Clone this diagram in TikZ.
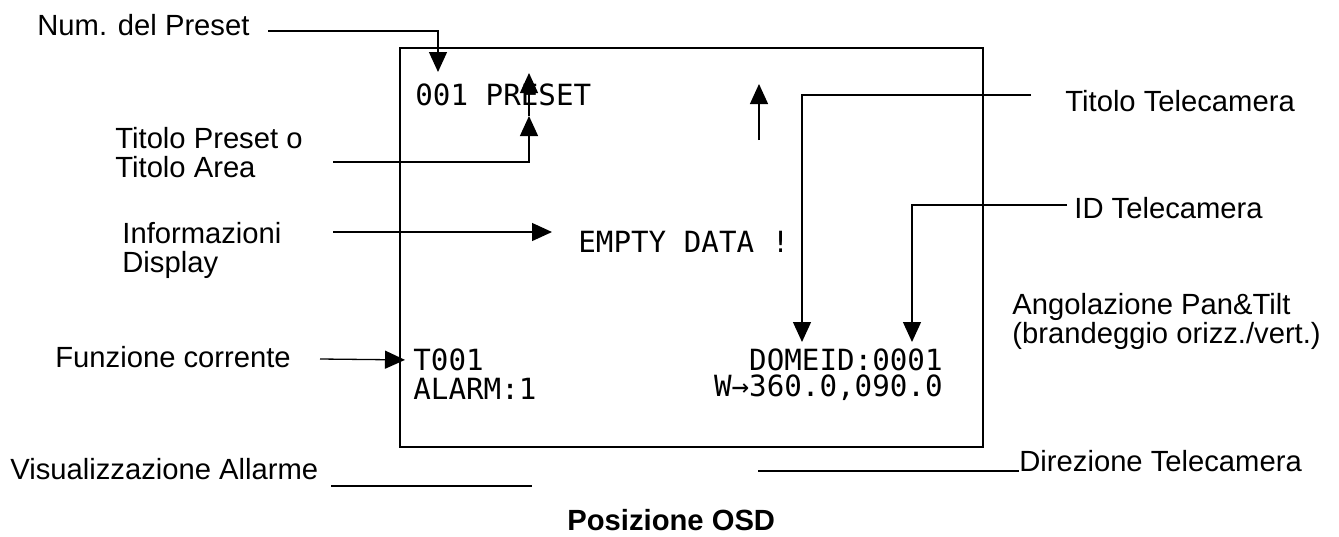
\documentclass[tikz,border=0pt]{standalone}
\usepackage{fontspec}
\setmainfont{Liberation Sans}
\newfontfamily\osdfont{DejaVu Sans Mono}
\usetikzlibrary{arrows.meta}

\begin{document}
\begin{tikzpicture}[x=0.5pt,y=-0.5pt,
  lbl/.style={inner sep=0pt, anchor=west, align=left, font=\fontsize{14.6}{14.5}\selectfont},
  osd/.style={inner sep=0pt, font=\osdfont\fontsize{14.6}{14.5}\selectfont},
  conn/.style={line width=0.65pt},
  arr/.style={conn, -{Triangle[length=10pt,width=9pt]}},
  frame/.style={line width=1.2pt}]
\useasboundingbox (0,0) rectangle (1339,536);
% Screen
\draw[frame] (400,48) rectangle (983,447);
\node[osd, anchor=west] (preset) at (415,95) {001 PRESET};
\node[osd, anchor=west] (empty) at (578,242) {EMPTY DATA !};
\node[osd, anchor=west] (tour) at (413,360) {T001};
\node[osd, anchor=west] (alarm) at (413,389) {ALARM:1};
\node[osd, anchor=east] (domeid) at (943,360) {DOMEID:0001};
\node[osd, anchor=east] (pantilt) at (943,388) {W→360.0,090.0};
% Num. del Preset
\node[lbl] (numlbl) at (37,25) {Num. del Preset};
\coordinate (numA) at (268,31);
\coordinate (numB) at (438,72);
\draw[arr] (numA) -| (numB);
% Titolo Preset
\node[lbl] (titlbl) at (115,152.5) {Titolo Preset o\\Titolo Area};
\coordinate (titA) at (333,162);
\coordinate (titM) at (529,116);
\coordinate (titB) at (529,73);
\draw[arr] (titA) -| (titM);
\draw[arr] (titM) -- (titB);
% free arrow
\coordinate (upA) at (759,140);
\coordinate (upB) at (759,84);
\draw[arr] (upA) -- (upB);
% Titolo Telecamera
\node[lbl] (camlbl) at (1065,101) {Titolo Telecamera};
\coordinate (camA) at (1031,95);
\coordinate (camB) at (802,342);
\draw[arr] (camA) -| (camB);
% ID Telecamera
\node[lbl] (idlbl) at (1074,208) {ID Telecamera};
\coordinate (idA) at (1067,205);
\coordinate (idB) at (912,342);
\draw[arr] (idA) -| (idB);
% Informazioni Display
\node[lbl] (infolbl) at (122,250) {Informazioni\\Display};
\coordinate (infoA) at (333,232);
\coordinate (infoB) at (552,232);
\draw[arr] (infoA) -- (infoB);
% Funzione corrente
\node[lbl] (funlbl) at (55,357) {Funzione corrente};
\coordinate (funA) at (320,359);
\draw[arr, shorten >=4pt] (funA) -- (tour.west);
% Angolazione
\node[lbl] (anglbl) at (1012,321.5) {Angolazione Pan\&Tilt\\(brandeggio orizz./vert.)};
% Visualizzazione Allarme
\node[lbl] (vislbl) at (10,469) {Visualizzazione Allarme};
\coordinate (visA) at (331,486);
\coordinate (visB) at (532,486);
\draw[conn] (visA) -- (visB);
% Direzione Telecamera
\node[lbl] (dirlbl) at (1019,461) {Direzione Telecamera};
\coordinate (dirA) at (758,471);
\draw[conn] (dirA) -- (dirA -| dirlbl.west);
% caption
\node[lbl, font=\fontsize{14.6}{14.5}\selectfont\bfseries] (caption) at (567,520) {Posizione OSD};
\end{tikzpicture}
\end{document}
